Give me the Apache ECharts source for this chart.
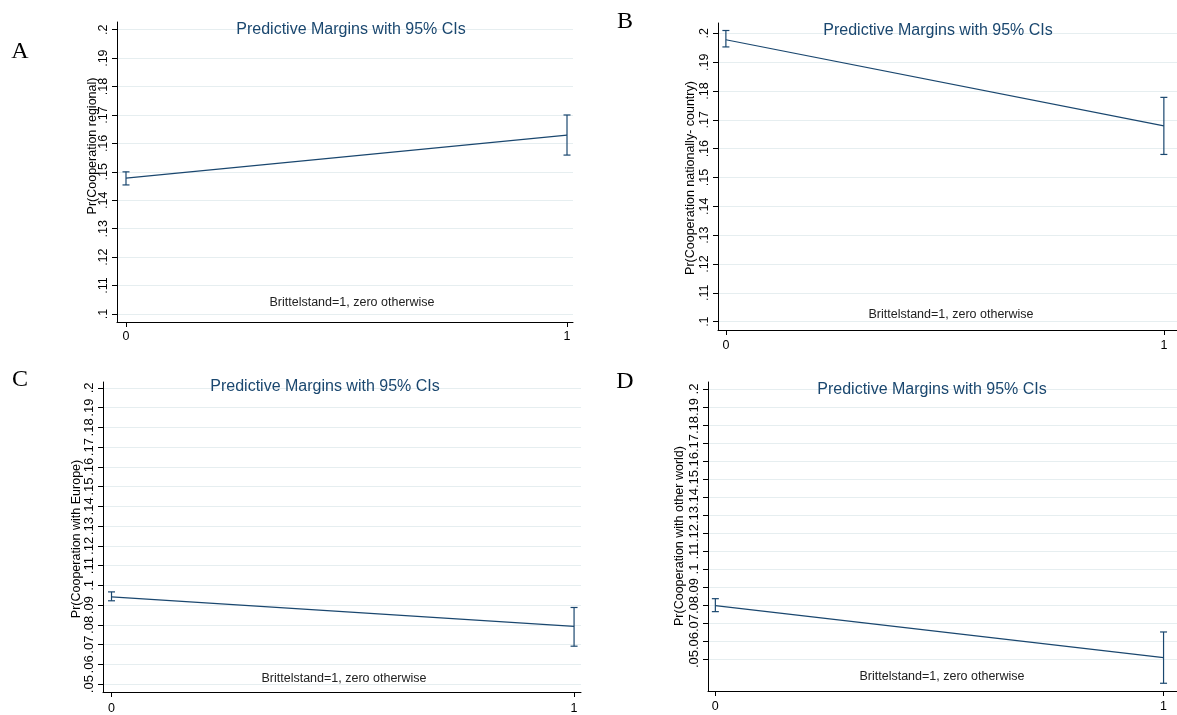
<!DOCTYPE html>
<html><head><meta charset="utf-8">
<script src="https://cdn.jsdelivr.net/npm/echarts@6/dist/echarts.min.js"></script>
<style>html,body{margin:0;padding:0;background:#fff}#c{width:1177px;height:715px}</style>
</head><body><div id="c"></div>
<script>
// ---------- data ----------
const panelLetters = ['A', 'B', 'C', 'D'];
const titleText = 'Predictive Margins with 95% CIs';
const noteText = 'Brittelstand=1, zero otherwise';
const yTitles = ['Pr(Cooperation regional)', 'Pr(Cooperation nationally- country)', 'Pr(Cooperation with Europe)', 'Pr(Cooperation with other world)'];
const xValues = [0, 1];
const xTickLabels = ['0', '1'];
// margins and 95% CIs, per panel
const marginA = [0.1478, 0.1629];
const lowA = [0.1454, 0.1559];
const highA = [0.1500, 0.1700];
const marginB = [0.1978, 0.1679];
const lowB = [0.1953, 0.1580];
const highB = [0.2010, 0.1778];
const marginC = [0.0942, 0.0792];
const lowC = [0.0922, 0.0692];
const highC = [0.0967, 0.0888];
const marginD = [0.0796, 0.0507];
const lowD = [0.0763, 0.0365];
const highD = [0.0835, 0.0650];
const yTicksAB = [0.10, 0.11, 0.12, 0.13, 0.14, 0.15, 0.16, 0.17, 0.18, 0.19, 0.20];
const yTicksCD = [0.05, 0.06, 0.07, 0.08, 0.09, 0.10, 0.11, 0.12, 0.13, 0.14, 0.15, 0.16, 0.17, 0.18, 0.19, 0.20];

// ---------- layout ----------
const navy = '#1a476f';
const gridCol = '#e6eef0';
const panels = [
  {m: marginA, lo: lowA, hi: highA, ticks: yTicksAB, grid: {left: 117, top: 22, width: 456, height: 300}, x: [-0.0204, 1.0136], y: [0.0972, 0.2027],
   title: [351, 22], note: [352, 303], ytitle: [93, 146], letter: [20, 52], tickFont: 12.5, xMargin: 8},
  {m: marginB, lo: lowB, hi: highB, ticks: yTicksAB, grid: {left: 718, top: 23, width: 470, height: 307}, x: [-0.018, 1.03], y: [0.0971, 0.2036],
   title: [938, 23], note: [951, 315], ytitle: [691, 178], letter: [625, 22], tickFont: 12.5, xMargin: 9},
  {m: marginC, lo: lowC, hi: highC, ticks: yTicksCD, grid: {left: 103, top: 382, width: 478, height: 314}, x: [-0.0184, 1.015], y: [0.046, 0.203],
   title: [325, 379], note: [344, 679], ytitle: [77, 539], letter: [20, 380], tickFont: 13, xMargin: 10},
  {m: marginD, lo: lowD, hi: highD, ticks: yTicksCD, grid: {left: 708, top: 382, width: 477, height: 309}, x: [-0.0164, 1.03], y: [0.0322, 0.2039],
   title: [932, 382], note: [942, 677], ytitle: [680, 536], letter: [625, 382], tickFont: 13, xMargin: 9}
];

function fmt(v) {
  const s = String(Math.round(v * 100) / 100);
  return s.replace(/^0/, '');
}

function errRender(params, api) {
  const x = api.value(0), lo = api.value(1), hi = api.value(2);
  const a = api.coord([x, lo]), b = api.coord([x, hi]);
  const w = 3.5;
  const style = {stroke: navy, lineWidth: 1.2, fill: null};
  return {type: 'group', children: [
    {type: 'line', shape: {x1: a[0], y1: a[1], x2: b[0], y2: b[1]}, style: style},
    {type: 'line', shape: {x1: a[0] - w, y1: a[1], x2: a[0] + w, y2: a[1]}, style: style},
    {type: 'line', shape: {x1: b[0] - w, y1: b[1], x2: b[0] + w, y2: b[1]}, style: style}
  ]};
}

const grids = [], xAxes = [], yAxes = [], series = [], titles = [], graphics = [];
panels.forEach((p, i) => {
  grids.push(Object.assign({containLabel: false}, p.grid));
  xAxes.push({
    type: 'value', gridIndex: i, min: p.x[0], max: p.x[1],
    axisLine: {show: true, onZero: false, lineStyle: {color: '#000', width: 1}},
    axisTick: {show: true, customValues: xValues, length: 5, lineStyle: {color: '#000'}},
    axisLabel: {customValues: xValues, formatter: v => xTickLabels[xValues.indexOf(Math.round(v))], fontSize: 12.5, color: '#000', margin: p.xMargin, fontFamily: 'Liberation Sans'},
    splitLine: {show: false}
  });
  yAxes.push({
    type: 'value', gridIndex: i, min: p.y[0], max: p.y[1],
    axisLine: {show: true, onZero: false, lineStyle: {color: '#000', width: 1}},
    axisTick: {show: true, customValues: p.ticks, length: 5, lineStyle: {color: '#000'}},
    axisLabel: {customValues: p.ticks, formatter: fmt, rotate: 90, fontSize: p.tickFont, color: '#000', margin: 7, hideOverlap: false, fontFamily: 'Liberation Sans'},
    splitLine: {show: true, lineStyle: {color: gridCol, width: 1}}
  });
  series.push({
    type: 'line', xAxisIndex: i, yAxisIndex: i, symbol: 'none', animation: false,
    lineStyle: {color: navy, width: 1.2},
    data: xValues.map((x, k) => [x, p.m[k]])
  });
  series.push({
    type: 'custom', xAxisIndex: i, yAxisIndex: i, animation: false,
    renderItem: errRender, encode: {x: 0, y: [1, 2]},
    data: xValues.map((x, k) => [x, p.lo[k], p.hi[k]])
  });
  titles.push({
    text: titleText, left: p.title[0], top: p.title[1], textAlign: 'center', padding: 0,
    textStyle: {fontSize: 16, fontWeight: 'normal', color: navy, fontFamily: 'Liberation Sans'}
  });
  graphics.push({
    type: 'text', x: p.note[0], y: p.note[1],
    style: {text: noteText, fill: '#222', font: '12.5px "Liberation Sans"', textAlign: 'center', textVerticalAlign: 'middle'}
  });
  graphics.push({
    type: 'text', x: p.ytitle[0], y: p.ytitle[1], rotation: Math.PI / 2,
    style: {text: yTitles[i], fill: '#000', font: '12.5px "Liberation Sans"', textAlign: 'center', textVerticalAlign: 'middle'}
  });
  graphics.push({
    type: 'text', x: p.letter[0], y: p.letter[1],
    style: {text: panelLetters[i], fill: '#000', font: '24px "Liberation Serif"', textAlign: 'center', textVerticalAlign: 'middle'}
  });
});

const chart = echarts.init(document.getElementById('c'), null, {renderer: 'canvas'});
chart.setOption({
  animation: false,
  backgroundColor: '#fff',
  title: titles,
  grid: grids,
  xAxis: xAxes,
  yAxis: yAxes,
  series: series,
  graphic: graphics
});
</script>
</body></html>
